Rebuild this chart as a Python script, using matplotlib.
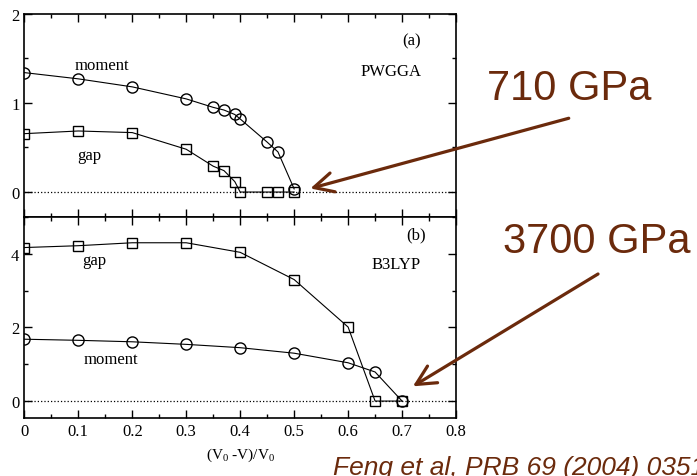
import numpy as np
import matplotlib
matplotlib.use("Agg")
import matplotlib.pyplot as plt
from matplotlib.ticker import MultipleLocator

# (a) PWGGA
x_mom_a = [0.0, 0.1, 0.2, 0.3, 0.35, 0.37, 0.39, 0.40, 0.45, 0.47, 0.50]
mom_a = [1.34, 1.27, 1.18, 1.045, 0.95, 0.92, 0.87, 0.82, 0.56, 0.45, 0.035]
x_gap_a = [0.0, 0.1, 0.2, 0.3, 0.35, 0.37, 0.39, 0.40, 0.45, 0.47, 0.50]
gap_a = [0.655, 0.685, 0.667, 0.48, 0.29, 0.24, 0.117, 0.0, 0.0, 0.0, 0.0]

# (b) B3LYP
x_gap_b = [0.0, 0.1, 0.2, 0.3, 0.4, 0.5, 0.6, 0.65, 0.7]
gap_b = [4.17, 4.22, 4.30, 4.30, 4.04, 3.30, 2.01, 0.0, 0.0]
x_mom_b = [0.0, 0.1, 0.2, 0.3, 0.4, 0.5, 0.6, 0.65, 0.7]
mom_b = [1.68, 1.65, 1.61, 1.54, 1.45, 1.30, 1.04, 0.79, 0.0]

xticks = [0, 0.1, 0.2, 0.3, 0.4, 0.5, 0.6, 0.7, 0.8]
xticklabels = ["0", "0.1", "0.2", "0.3", "0.4", "0.5", "0.6", "0.7", "0.8"]

brown = "#6b2a0c"
serif = "Liberation Serif"
plt.rcParams["mathtext.fontset"] = "custom"
plt.rcParams["mathtext.rm"] = serif
plt.rcParams["mathtext.it"] = serif + ":italic"

fig = plt.figure(figsize=(6.97, 4.77), dpi=100)
ax1 = fig.add_axes([0.0349, 0.543, 0.6194, 0.426])
ax2 = fig.add_axes([0.0349, 0.1216, 0.6194, 0.4214], sharex=ax1)

line_kw = dict(color="k", lw=0.8, mfc="none", mec="k", mew=1.0)

ax1.plot(x_mom_a, mom_a, marker="o", ms=8, **line_kw)
ax1.plot(x_gap_a, gap_a, marker="s", ms=7, **line_kw)
ax2.plot(x_gap_b, gap_b, marker="s", ms=7, **line_kw)
ax2.plot(x_mom_b, mom_b, marker="o", ms=8, **line_kw)

for ax in (ax1, ax2):
    ax.axhline(0, color="k", ls=":", lw=0.9, zorder=0)
    ax.set_xlim(0, 0.8)
    ax.xaxis.set_major_locator(MultipleLocator(0.1))
    ax.xaxis.set_minor_locator(MultipleLocator(0.05))
    ax.tick_params(which="both", direction="in", top=True, right=True,
                   labelsize=12, width=1.0)
    ax.tick_params(which="major", length=6)
    ax.tick_params(which="minor", length=3)
    for s in ax.spines.values():
        s.set_linewidth(1.2)

ax1.set_ylim(-0.28, 2.0)
ax1.yaxis.set_major_locator(MultipleLocator(1))
ax1.yaxis.set_minor_locator(MultipleLocator(0.5))
ax1.tick_params(labelbottom=False)

ax2.set_ylim(-0.46, 5.0)
ax2.yaxis.set_major_locator(MultipleLocator(2))
ax2.yaxis.set_minor_locator(MultipleLocator(1))
ax2.set_xticks(xticks)
ax2.set_xticklabels(xticklabels, family=serif, fontsize=12)
ax2.set_xlabel("(V$_0$ -V)/V$_0$", family=serif, fontsize=11, labelpad=5)

for ax in (ax1, ax2):
    for lab in ax.get_yticklabels():
        lab.set_family(serif)

txt = dict(family=serif, fontsize=12)
ax1.text(0.094, 1.38, "moment", **txt)
ax1.text(0.098, 0.37, "gap", **txt)
ax1.text(0.70, 1.66, "(a)", **txt)
ax1.text(0.623, 1.31, "PWGGA", **txt)
ax2.text(0.107, 3.72, "gap", **txt)
ax2.text(0.109, 1.03, "moment", **txt)
ax2.text(0.707, 4.42, "(b)", **txt)
ax2.text(0.644, 3.62, "B3LYP", **txt)

sans = "Liberation Sans"
fig.text(487 / 697, 1 - 100 / 477, "710 GPa", color=brown, fontsize=30,
         family=sans, va="baseline")
fig.text(503 / 697, 1 - 253 / 477, "3700 GPa", color=brown, fontsize=30,
         family=sans, va="baseline")
fig.text(333 / 697, 1 - 475 / 477, "Feng et al, PRB 69 (2004) 035107",
         color=brown, fontsize=19, family=sans, style="italic", va="baseline")

arrow = dict(arrowstyle="->, head_length=0.7, head_width=0.35", lw=2.3,
             color=brown, shrinkA=0, shrinkB=0, mutation_scale=20)
ax1.annotate("", xy=(0.530, 0.04), xycoords="data",
             xytext=(0.816, 0.750), textcoords="figure fraction",
             arrowprops=arrow, annotation_clip=False)
ax2.annotate("", xy=(0.72, 0.40), xycoords="data",
             xytext=(0.858, 0.4235), textcoords="figure fraction",
             arrowprops=arrow, annotation_clip=False)

fig.savefig("out.png", dpi=100)
